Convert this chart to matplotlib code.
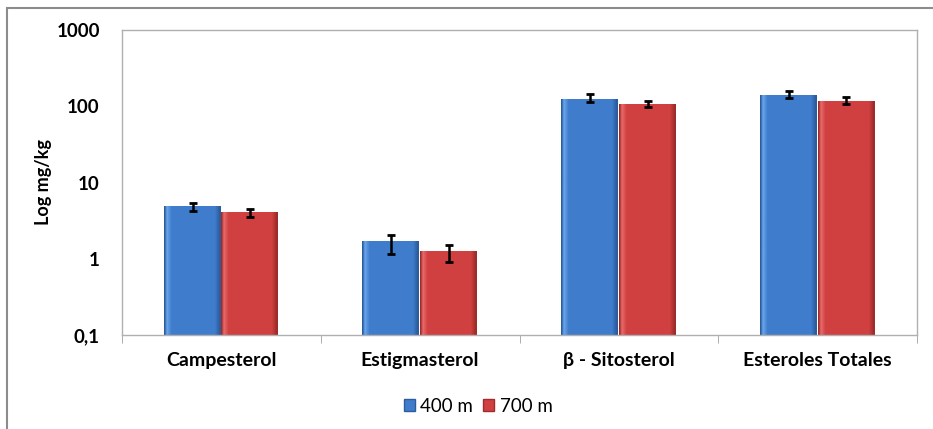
import matplotlib.pyplot as plt
import numpy as np
from matplotlib.colors import LinearSegmentedColormap
from matplotlib.patches import Rectangle

plt.rcParams["font.family"] = ["Lato", "DejaVu Sans"]

categories = ["Campesterol", "Estigmasterol", "β - Sitosterol", "Esteroles Totales"]
series_names = ["400 m", "700 m"]
values_400 = [4.85, 1.62, 128, 144]
errors_400 = [0.6, 0.45, 15, 16]
values_700 = [4.05, 1.2, 108, 120]
errors_700 = [0.5, 0.3, 10, 12]

colors = [("#6aa6ec", "#3f7dcc", "#2c5c9c"), ("#ea6a6a", "#d04040", "#9e2c2c")]


def bevel_bar(ax, bar, shades):
    # horizontal gradient clipped to the bar rectangle
    light, mid, dark = shades
    cmap = LinearSegmentedColormap.from_list(
        "bevel", [(0, dark), (0.04, light), (0.12, mid), (0.88, mid), (0.96, dark), (1, dark)])
    x0, y0 = bar.get_x(), bar.get_y()
    x1, y1 = x0 + bar.get_width(), y0 + bar.get_height()
    grad = np.linspace(0, 1, 128).reshape(1, -1)
    img = ax.imshow(grad, cmap=cmap, extent=(x0, x1, y0, y1), aspect="auto",
                    origin="lower", zorder=2, interpolation="bilinear")
    img.set_clip_path(bar)
    bar.set_facecolor("none")


fig = plt.figure(figsize=(9.33, 4.29), dpi=100)
ax = fig.add_axes([122 / 933, 1 - 335 / 429, (917 - 122) / 933, (335 - 30) / 429])

x = np.arange(len(categories))
width = 0.29
bars_a = ax.bar(x - width / 2, values_400, width, bottom=0.1, color=colors[0][1],
                linewidth=0, zorder=3, label=series_names[0])
bars_b = ax.bar(x + width / 2, values_700, width, bottom=0.1, color=colors[1][1],
                linewidth=0, zorder=3, label=series_names[1])

ax.set_yscale("log")
ax.set_ylim(0.1, 1000)
ax.set_xlim(-0.5, len(categories) - 0.5)

for bar in bars_a:
    bevel_bar(ax, bar, colors[0])
for bar in bars_b:
    bevel_bar(ax, bar, colors[1])

ax.errorbar(x - width / 2, values_400, yerr=errors_400, fmt="none", ecolor="black",
            elinewidth=1.8, capsize=3, capthick=2, zorder=4)
ax.errorbar(x + width / 2, values_700, yerr=errors_700, fmt="none", ecolor="black",
            elinewidth=1.8, capsize=3, capthick=2, zorder=4)

ax.set_yticks([0.1, 1, 10, 100, 1000])
ax.set_yticklabels(["0,1", "1", "10", "100", "1000"], fontsize=13.5, fontweight="bold")
ax.yaxis.set_minor_locator(plt.NullLocator())
ax.set_xticks(x)
ax.set_xticklabels(categories, fontsize=14, fontweight="bold")
ax.set_xticks(np.arange(len(categories) + 1) - 0.5, minor=True)
ax.tick_params(axis="x", which="major", length=0, pad=12)
ax.tick_params(axis="x", which="minor", length=6, color="#a0a0a0", direction="out")
ax.tick_params(axis="y", length=0, pad=16)
ax.set_ylabel("Log mg/kg", fontsize=13, fontweight="bold", labelpad=3)

for side in ax.spines.values():
    side.set_color("#b0b0b0")
    side.set_linewidth(1.0)

handles = [Rectangle((0, 0), 1, 1, facecolor=colors[0][1], edgecolor=colors[0][2]),
           Rectangle((0, 0), 1, 1, facecolor=colors[1][1], edgecolor=colors[1][2])]
fig.legend(handles, series_names, loc="center", bbox_to_anchor=(478 / 933, 1 - 406 / 429),
           ncol=2, frameon=False, fontsize=13.5, handlelength=0.6, handleheight=0.6,
           handletextpad=0.3, columnspacing=0.5)

# chart frame (right and bottom edges fall outside the canvas)
fig.patches.append(Rectangle((7 / 933, -0.1), 1.2, 1 - 8 / 429 + 0.1, transform=fig.transFigure,
                             fill=False, edgecolor="#8c8c8c", linewidth=1.5))

fig.savefig("out.png", dpi=100)
